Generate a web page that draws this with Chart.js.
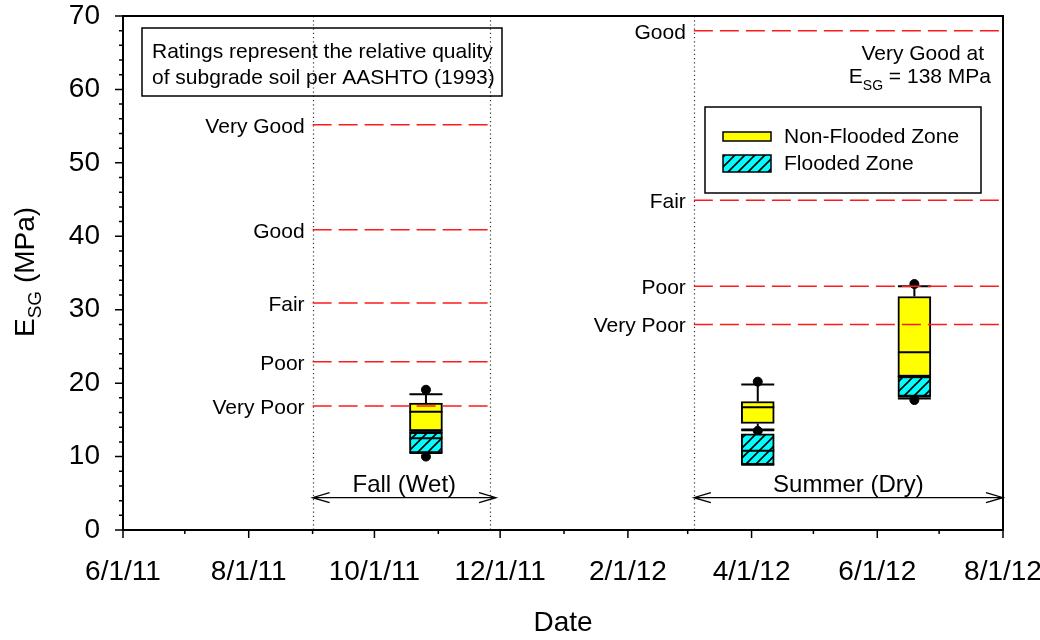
<!DOCTYPE html>
<html>
<head>
<meta charset="utf-8">
<script src="https://cdn.jsdelivr.net/npm/chart.js@4.4.1/dist/chart.umd.min.js"></script>
<style>
  html, body { margin: 0; padding: 0; background: #fff; }
  #wrap { width: 1040px; height: 640px; }
</style>
</head>
<body>
<div id="wrap"><canvas id="chart"></canvas></div>
<script>
// survey dates of the three box plots
const boxDates = ['2011-10-26', '2012-04-04', '2012-06-19'];

// [lower whisker, q1, median, q3, upper whisker] in MPa
const nonFloodedStats = [
  [13.5, 13.5, 16.1, 17.3, 18.5],
  [13.6, 14.5, 16.7, 17.5, 19.8],
  [20.9, 20.9, 24.2, 31.8, 33.2]
];
const floodedStats = [
  [10.5, 10.5, 12.5, 13.3, 13.3],
  [8.9, 8.9, 10.8, 13.1, 13.7],
  [17.9, 18.2, 18.2, 20.9, 20.9]
];
const nonFloodedOutliers = [[19.1], [20.2, 13.5], [33.5]];
const floodedOutliers = [[10.0], [], [17.7]];

// AASHTO (1993) rating thresholds for each season
const fallRatingNames = ['Very Good', 'Good', 'Fair', 'Poor', 'Very Poor'];
const fallRatingValues = [55.2, 40.9, 30.9, 22.9, 16.9];
const fallSpan = ['2011-09-01', '2011-11-26'];
const summerRatingNames = ['Good', 'Fair', 'Poor', 'Very Poor'];
const summerRatingValues = [68.0, 44.9, 33.2, 28.0];
const summerSpan = ['2012-03-04', '2012-08-01'];

const seasonNames = ['Fall (Wet)', 'Summer (Dry)'];
const seasonStart = ['2011-09-01', '2012-03-04'];
const seasonEnd = ['2011-11-29', '2012-08-01'];
const dividerDates = ['2011-09-01', '2011-11-26', '2012-03-04'];

const xTickLabels = ['6/1/11', '8/1/11', '10/1/11', '12/1/11', '2/1/12', '4/1/12', '6/1/12', '8/1/12'];
const yMin = 0, yMax = 70;

const FONT = '"Liberation Sans", Arial, Helvetica, sans-serif';

// x axis runs in days since 6/1/11
const origin = Date.UTC(2011, 5, 1);
function day(s) {
  const [y, m, d] = s.split('-').map(Number);
  return (Date.UTC(y, m - 1, d) - origin) / 864e5;
}
function labelDay(s) {
  const [m, d, yy] = s.split('/').map(Number);
  return (Date.UTC(2000 + yy, m - 1, d) - origin) / 864e5;
}
const xEnd = day('2012-08-01');
const monthTicks = [];
for (let m = 0; m <= 14; m++) monthTicks.push((Date.UTC(2011, 5 + m, 1) - origin) / 864e5);
const labelByDay = {};
xTickLabels.forEach(l => { labelByDay[labelDay(l)] = l; });

// cyan fill with black diagonal hatching
const hatch = (() => {
  const c = document.createElement('canvas');
  c.width = 10; c.height = 10;
  const g = c.getContext('2d');
  g.fillStyle = '#00ffff';
  g.fillRect(0, 0, 10, 10);
  g.strokeStyle = '#000';
  g.lineWidth = 1.6;
  g.beginPath();
  g.moveTo(-2, 12); g.lineTo(12, -2);
  g.moveTo(-2, 2); g.lineTo(2, -2);
  g.moveTo(8, 12); g.lineTo(12, 8);
  g.stroke();
  return g.createPattern(c, 'repeat');
})();

function boxData(stats) {
  return boxDates.map((d, i) => ({ x: day(d), y: [stats[i][1], stats[i][3]] }));
}
function outlierData(list) {
  const pts = [];
  list.forEach((vals, i) => vals.forEach(v => pts.push({ x: day(boxDates[i]), y: v })));
  return pts;
}
function ratingLines(values, span) {
  return values.map(v => ({
    type: 'line',
    data: [{ x: day(span[0]), y: v }, { x: day(span[1]), y: v }],
    borderColor: '#ff1a1a',
    borderWidth: 1.5,
    borderDash: [19, 7],
    pointRadius: 0,
    order: 1
  }));
}

// keep the plot frame where the layout padding puts it
function noEdgePadding(s) {
  s.paddingLeft = s.paddingRight = s.paddingTop = s.paddingBottom = 0;
}

// whiskers, caps and median line on top of each box
const boxWhiskers = {
  id: 'boxWhiskers',
  afterDatasetDraw(chart, args) {
    const ds = chart.data.datasets[args.index];
    if (!ds.stats) return;
    const ctx = chart.ctx, ys = chart.scales.y;
    const py = v => ys.getPixelForValue(v);
    ctx.save();
    ctx.strokeStyle = '#000';
    ctx.lineWidth = 2;
    args.meta.data.forEach((bar, i) => {
      const [lo, q1, med, q3, hi] = ds.stats[i];
      const x = bar.x, h = bar.width / 2;
      ctx.beginPath();
      ctx.moveTo(x - h, py(med)); ctx.lineTo(x + h, py(med));
      ctx.moveTo(x, py(q3)); ctx.lineTo(x, py(hi));
      ctx.moveTo(x - h, py(hi)); ctx.lineTo(x + h, py(hi));
      ctx.moveTo(x, py(q1)); ctx.lineTo(x, py(lo));
      ctx.moveTo(x - h, py(lo)); ctx.lineTo(x + h, py(lo));
      ctx.stroke();
    });
    ctx.restore();
  }
};

function arrowHead(ctx, x, y, dir) {
  ctx.moveTo(x + dir * 17, y - 5);
  ctx.lineTo(x, y);
  ctx.lineTo(x + dir * 17, y + 5);
}

const decorations = {
  id: 'decorations',
  beforeDatasetsDraw(chart) {
    const { ctx, chartArea: a } = chart;
    const xs = chart.scales.x;
    ctx.save();
    ctx.strokeStyle = '#333';
    ctx.lineWidth = 1.2;
    ctx.setLineDash([1.2, 3]);
    dividerDates.forEach(d => {
      const px = Math.round(xs.getPixelForValue(day(d))) + 0.5;
      ctx.beginPath();
      ctx.moveTo(px, a.top);
      ctx.lineTo(px, a.bottom);
      ctx.stroke();
    });
    ctx.restore();
  },
  afterDraw(chart) {
    const { ctx, chartArea: a } = chart;
    const xs = chart.scales.x, ys = chart.scales.y;
    ctx.save();

    // frame and tick marks
    ctx.strokeStyle = '#000';
    ctx.lineWidth = 2;
    ctx.strokeRect(a.left, a.top, a.right - a.left, a.bottom - a.top);
    ctx.lineWidth = 1.5;
    ctx.beginPath();
    ys.ticks.forEach(t => {
      const p = ys.getPixelForValue(t.value);
      const len = t.value % 10 === 0 ? 8 : 4;
      ctx.moveTo(a.left - len, p); ctx.lineTo(a.left, p);
    });
    xs.ticks.forEach(t => {
      const p = xs.getPixelForValue(t.value);
      const len = labelByDay[t.value] ? 8 : 4;
      ctx.moveTo(p, a.bottom); ctx.lineTo(p, a.bottom + len);
    });
    ctx.stroke();

    // rating labels
    ctx.fillStyle = '#000';
    ctx.font = '21px ' + FONT;
    ctx.textAlign = 'right';
    ctx.textBaseline = 'alphabetic';
    fallRatingNames.forEach((n, i) => {
      ctx.fillText(n, xs.getPixelForValue(day(fallSpan[0])) - 8, ys.getPixelForValue(fallRatingValues[i]) + 8);
    });
    summerRatingNames.forEach((n, i) => {
      ctx.fillText(n, xs.getPixelForValue(day(summerSpan[0])) - 8, ys.getPixelForValue(summerRatingValues[i]) + 8);
    });

    // season arrows
    ctx.lineWidth = 1.3;
    ctx.font = '24px ' + FONT;
    ctx.textAlign = 'center';
    const ay = ys.getPixelForValue(4.4);
    seasonNames.forEach((n, i) => {
      const x0 = xs.getPixelForValue(day(seasonStart[i]));
      const x1 = xs.getPixelForValue(day(seasonEnd[i]));
      ctx.beginPath();
      ctx.moveTo(x0, ay); ctx.lineTo(x1, ay);
      arrowHead(ctx, x0, ay, 1);
      arrowHead(ctx, x1, ay, -1);
      ctx.stroke();
      ctx.fillText(n, (x0 + x1) / 2, ay - 6);
    });

    // note box
    ctx.lineWidth = 1.5;
    ctx.strokeRect(142, 28, 360, 68);
    ctx.font = '21px ' + FONT;
    ctx.textAlign = 'left';
    ctx.fillText('Ratings represent the relative quality', 152, 58);
    ctx.fillText('of subgrade soil per AASHTO (1993)', 152, 84);

    // very good threshold note for summer
    ctx.textAlign = 'right';
    ctx.fillText('Very Good at', 984, 60);
    const tail = ' = 138 MPa';
    const tailW = ctx.measureText(tail).width;
    ctx.fillText(tail, 991, 83);
    ctx.font = '14px ' + FONT;
    const subW = ctx.measureText('SG').width;
    ctx.fillText('SG', 991 - tailW, 90);
    ctx.font = '21px ' + FONT;
    ctx.fillText('E', 991 - tailW - subW, 83);

    // legend
    ctx.strokeRect(705, 107, 276, 86);
    ctx.fillStyle = '#ffff00';
    ctx.fillRect(723, 132, 48, 9);
    ctx.strokeRect(723, 132, 48, 9);
    ctx.fillStyle = hatch;
    ctx.fillRect(723, 155, 48, 17);
    ctx.strokeRect(723, 155, 48, 17);
    ctx.fillStyle = '#000';
    ctx.textAlign = 'left';
    ctx.fillText('Non-Flooded Zone', 784, 143);
    ctx.fillText('Flooded Zone', 784, 170);

    // y axis title with subscript
    ctx.translate(34, 337);
    ctx.rotate(-Math.PI / 2);
    ctx.font = '28px ' + FONT;
    ctx.fillText('E', 0, 0);
    let w = ctx.measureText('E').width;
    ctx.font = '19px ' + FONT;
    ctx.fillText('SG', w, 7);
    w += ctx.measureText('SG').width;
    ctx.font = '28px ' + FONT;
    ctx.fillText(' (MPa)', w, 0);
    ctx.restore();
  }
};

new Chart(document.getElementById('chart'), {
  type: 'bar',
  data: {
    datasets: [
      {
        label: 'Non-Flooded Zone',
        data: boxData(nonFloodedStats),
        stats: nonFloodedStats,
        backgroundColor: '#ffff00',
        borderColor: '#000',
        borderWidth: 2,
        borderSkipped: false,
        grouped: false,
        barThickness: 33,
        order: 5
      },
      {
        type: 'scatter',
        data: outlierData(nonFloodedOutliers),
        backgroundColor: '#000',
        borderColor: '#000',
        pointRadius: 4.5,
        order: 4
      },
      {
        label: 'Flooded Zone',
        data: boxData(floodedStats),
        stats: floodedStats,
        backgroundColor: hatch,
        borderColor: '#000',
        borderWidth: 2,
        borderSkipped: false,
        grouped: false,
        barThickness: 33,
        order: 3
      },
      {
        type: 'scatter',
        data: outlierData(floodedOutliers),
        backgroundColor: '#000',
        borderColor: '#000',
        pointRadius: 4.5,
        order: 2
      },
      ...ratingLines(fallRatingValues, fallSpan),
      ...ratingLines(summerRatingValues, summerSpan)
    ]
  },
  options: {
    responsive: true,
    maintainAspectRatio: false,
    animation: false,
    layout: { padding: { left: 0, top: 16, right: 37, bottom: 0 } },
    plugins: {
      legend: { display: false },
      tooltip: { enabled: false }
    },
    scales: {
      x: {
        type: 'linear',
        min: 0,
        max: xEnd,
        offset: false,
        grid: { display: false, drawTicks: false },
        border: { display: false },
        afterBuildTicks: s => { s.ticks = monthTicks.map(v => ({ value: v })); },
        afterFit: s => { s.height = 110; noEdgePadding(s); },
        ticks: {
          autoSkip: false,
          maxRotation: 0,
          padding: 25,
          color: '#000',
          font: { family: FONT, size: 28 },
          callback: v => labelByDay[v] || ''
        },
        title: {
          display: true,
          text: 'Date',
          color: '#000',
          font: { family: FONT, size: 28 },
          padding: { top: 0, bottom: 0 }
        }
      },
      y: {
        min: yMin,
        max: yMax,
        grid: { display: false, drawTicks: false },
        border: { display: false },
        afterFit: s => { s.width = 123; noEdgePadding(s); },
        ticks: {
          stepSize: 2,
          autoSkip: false,
          padding: 23,
          color: '#000',
          font: { family: FONT, size: 28 },
          callback: v => (v % 10 === 0 ? v : '')
        }
      }
    }
  },
  plugins: [boxWhiskers, decorations]
});
</script>
</body>
</html>
